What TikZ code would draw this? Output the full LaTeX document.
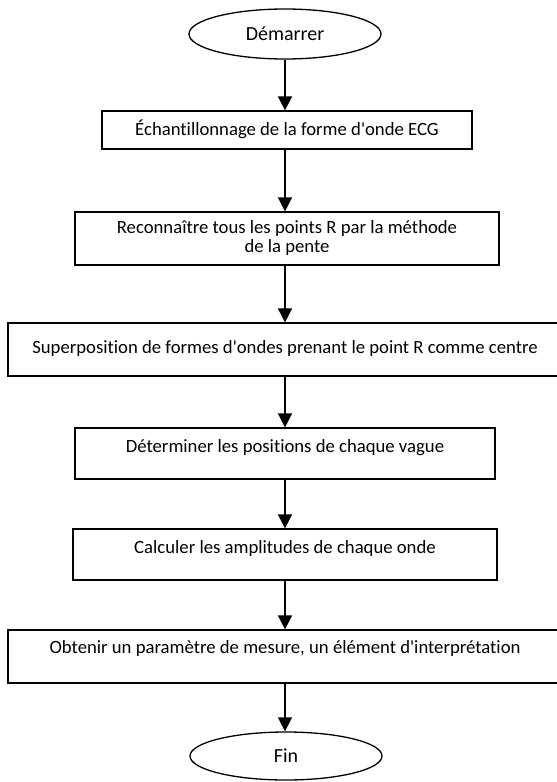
\documentclass[tikz,border=0pt]{standalone}
\usepackage{fontspec}
\setmainfont{Carlito}[Ligatures={NoCommon}]
\usetikzlibrary{shapes.geometric,arrows.meta}

\begin{document}
\begin{tikzpicture}[x=1pt,y=-1pt]
	\tikzset{
		stepbox/.style={draw, line width=1.2pt, rectangle, inner sep=0pt, align=center,
			font=\fontsize{18.7}{19}\selectfont},
		termbox/.style={draw, line width=1.3pt, ellipse, inner sep=0pt,
			minimum width=192pt, minimum height=50pt, font=\fontsize{20}{20}\selectfont},
		flow/.style={line width=1.5pt, -{Triangle[width=14pt,length=14pt]}}
	}
	\useasboundingbox (0,0) rectangle (557,782);

	% Start / end
	\node[termbox] (start) at (285,34) {Démarrer};
	\node[termbox, minimum height=48pt] (stop) at (286,756) {Fin};

	% Processing steps
	\node[stepbox, minimum width=370pt, text height=24pt, text depth=14pt] (sampling) at (287,130)
		{Échantillonnage de la forme d\textquotesingle onde ECG};
	\node[stepbox, minimum width=424pt, minimum height=53pt] (rpeaks) at (287,238.5)
		{Reconnaître tous les points R par la méthode\\de la pente};
	\node[stepbox, minimum width=554pt, text height=30pt, text depth=23pt] (overlay) at (285,349.5)
		{Superposition de formes d\textquotesingle ondes prenant le point R comme centre};
	\node[stepbox, minimum width=420pt, text height=24pt, text depth=27pt] (positions) at (285,453.5)
		{Déterminer les positions de chaque vague};
	\node[stepbox, minimum width=424pt, text height=24pt, text depth=27pt] (amplitudes) at (285,554.5)
		{Calculer les amplitudes de chaque onde};
	\node[stepbox, minimum width=554pt, text height=23pt, text depth=30pt] (result) at (285,656.5)
		{Obtenir un paramètre de mesure, un élément d\textquotesingle interprétation};

	% Connectors
	\draw[flow] (start.south) -- (start.south |- sampling.north);
	\draw[flow] (start.south |- sampling.south) -- (start.south |- rpeaks.north);
	\draw[flow] (start.south |- rpeaks.south) -- (overlay.north);
	\draw[flow] (overlay.south) -- (positions.north);
	\draw[flow] (positions.south) -- (amplitudes.north);
	\draw[flow] (amplitudes.south) -- (result.north);
	\draw[flow] (result.south) -- (result.south |- stop.north);
\end{tikzpicture}
\end{document}
